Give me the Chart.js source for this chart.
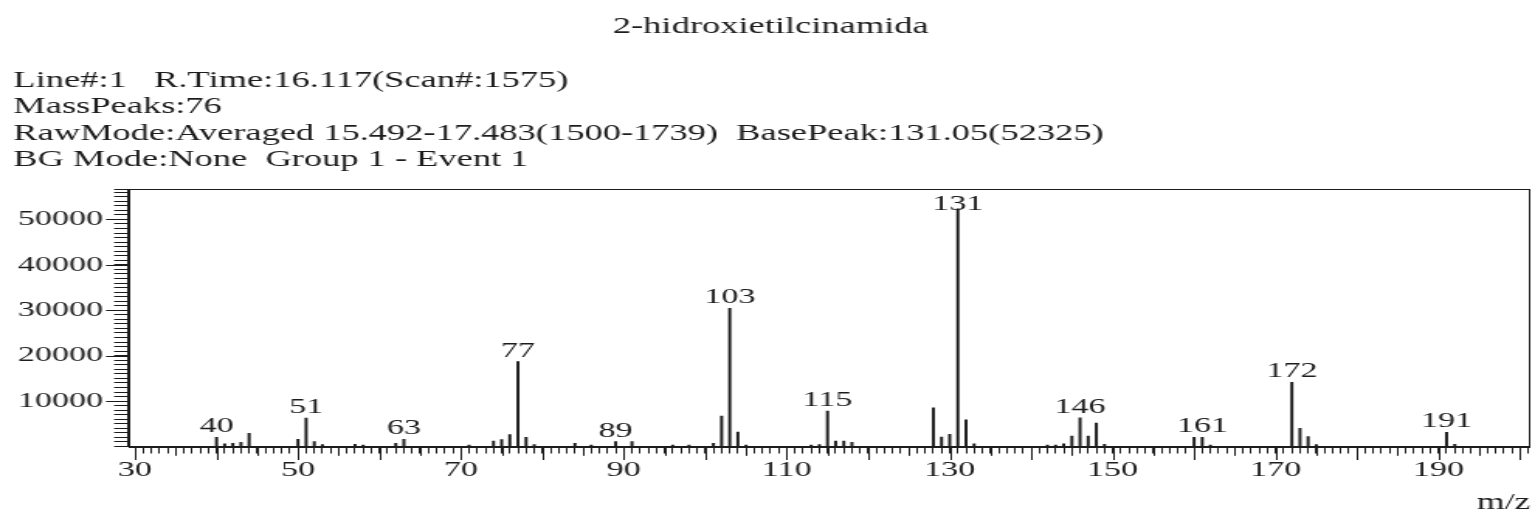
<!DOCTYPE html>
<html>
<head>
<meta charset="utf-8">
<script src="https://cdn.jsdelivr.net/npm/chart.js@4.4.1/dist/chart.umd.min.js"></script>
<style>
html,body{margin:0;padding:0;background:#fff;overflow:hidden;}
#wrap{position:absolute;left:0;top:0;width:990px;height:513px;transform:scaleX(1.5505);transform-origin:0 0;}
canvas{display:block;}
</style>
</head>
<body>
<div id="wrap"><canvas id="c" width="990" height="513"></canvas></div>
<script>
// ---- data ----
const chartTitle = '2-hidroxietilcinamida';
const headerLines = [
  'Line#:1   R.Time:16.117(Scan#:1575)',
  'MassPeaks:76',
  'RawMode:Averaged 15.492-17.483(1500-1739)  BasePeak:131.05(52325)',
  'BG Mode:None  Group 1 - Event 1'
];
const mz = [40,41,42,43,44,50,51,52,53,57,58,62,63,71,74,75,76,77,78,79,84,86,89,91,96,98,101,102,103,104,105,113,114,115,116,117,118,128,129,130,131,132,133,142,143,144,145,146,147,148,149,160,161,162,172,173,174,175,191,192];
const intensity = [2000,600,700,900,2900,1600,6250,1100,400,500,300,700,1600,300,1200,1500,2600,18700,2000,400,700,300,1100,1100,300,300,700,6700,30450,3200,300,300,400,7800,1200,1200,900,8500,2100,2700,52325,5900,600,300,300,600,2300,6300,2300,5150,500,2000,2000,300,14150,4000,2200,400,3100,500];
const labeledPeaks = [40,51,63,77,89,103,115,131,146,161,172,191];
const xTickLabels = [30,50,70,90,110,130,150,170,190];
const yTickLabels = [10000,20000,30000,40000,50000];
const xAxisTitle = 'm/z';

const FONT = "'Liberation Serif', 'Times New Roman', serif";
const INK = '#1c1c1c';
const Y_TOP = 56700;

const decor = {
  id: 'decor',
  afterDraw(chart) {
    const {ctx, chartArea: a, scales: {x, y}} = chart;
    ctx.save();
    ctx.strokeStyle = INK;
    ctx.lineWidth = 1;
    // frame
    ctx.strokeRect(Math.round(a.left) + 0.5, Math.round(a.top) + 0.5, Math.round(a.right - a.left), Math.round(a.bottom - a.top));
    const line = (x1, y1, x2, y2) => { ctx.beginPath(); ctx.moveTo(x1, y1); ctx.lineTo(x2, y2); ctx.stroke(); };
    // longer major ticks on y
    y.ticks.forEach(t => {
      if (t.value > 0 && t.value % 10000 === 0) {
        const py = Math.round(y.getPixelForValue(t.value)) + 0.5;
        line(a.left - 14.2, py, a.left, py);
      }
    });
    // longer ticks on x every 5 / 10
    x.ticks.forEach(t => {
      const v = t.value;
      const len = v % 10 === 0 ? 13.5 : (v % 5 === 0 ? 9.3 : 0);
      if (len) {
        const px = Math.round(x.getPixelForValue(v)) + 0.5;
        line(px, a.bottom, px, a.bottom + len);
      }
    });
    // peak labels
    ctx.fillStyle = INK;
    ctx.font = '22px ' + FONT;
    ctx.textAlign = 'center';
    ctx.textBaseline = 'alphabetic';
    labeledPeaks.forEach(m => {
      const i = mz.indexOf(m);
      const px = x.getPixelForValue(m);
      let py = y.getPixelForValue(intensity[i]) - 5;
      py = Math.max(py, a.top + 21);
      ctx.fillText(String(m), px, py);
    });
    // header
    ctx.font = '23.5px ' + FONT;
    ctx.textAlign = 'center';
    ctx.fillText(chartTitle, 497.1, 33.3);
    ctx.textAlign = 'left';
    headerLines.forEach((s, i) => ctx.fillText(s, 8.6, 86.7 + i * 26.5));
    // axis title
    ctx.font = '23px ' + FONT;
    ctx.textAlign = 'right';
    ctx.fillText(xAxisTitle, 987, 509);
    ctx.restore();
  }
};

new Chart(document.getElementById('c'), {
  type: 'bar',
  data: {
    datasets: [{
      data: mz.map((m, i) => ({x: m, y: intensity[i]})),
      backgroundColor: INK,
      borderWidth: 0,
      barThickness: 1.3
    }]
  },
  options: {
    responsive: false,
    animation: false,
    devicePixelRatio: 1,
    layout: {padding: {top: 189, right: 4.2, left: 0, bottom: 0}},
    plugins: {legend: {display: false}, tooltip: {enabled: false}, title: {display: false}},
    scales: {
      x: {
        type: 'linear', min: 29.14, max: 201.05, offset: false,
        grid: {display: true, drawOnChartArea: false, drawTicks: true, tickLength: 7, color: INK, lineWidth: 1, offset: false},
        border: {display: true, color: INK, width: 1},
        ticks: {
          stepSize: 1, autoSkip: false, maxRotation: 0, minRotation: 0, includeBounds: false, padding: 4,
          color: INK, font: {family: FONT, size: 22},
          callback: v => xTickLabels.includes(v) ? String(v) : ''
        },
        afterFit(s) { s.height = 66.5; }
      },
      y: {
        type: 'linear', min: 0, bounds: 'data',
        afterDataLimits(s) { s.min = 0; s.max = Y_TOP; },
        grid: {display: true, drawOnChartArea: false, drawTicks: true, tickLength: 9, color: INK, lineWidth: 1},
        border: {display: true, color: INK, width: 1},
        ticks: {
          stepSize: 1000, autoSkip: false, includeBounds: false, padding: 7,
          color: INK, font: {family: FONT, size: 22},
          callback: v => yTickLabels.includes(v) ? String(v) : ''
        },
        afterFit(s) { s.width = 82.58; }
      }
    }
  },
  plugins: [decor]
});
</script>
</body>
</html>
